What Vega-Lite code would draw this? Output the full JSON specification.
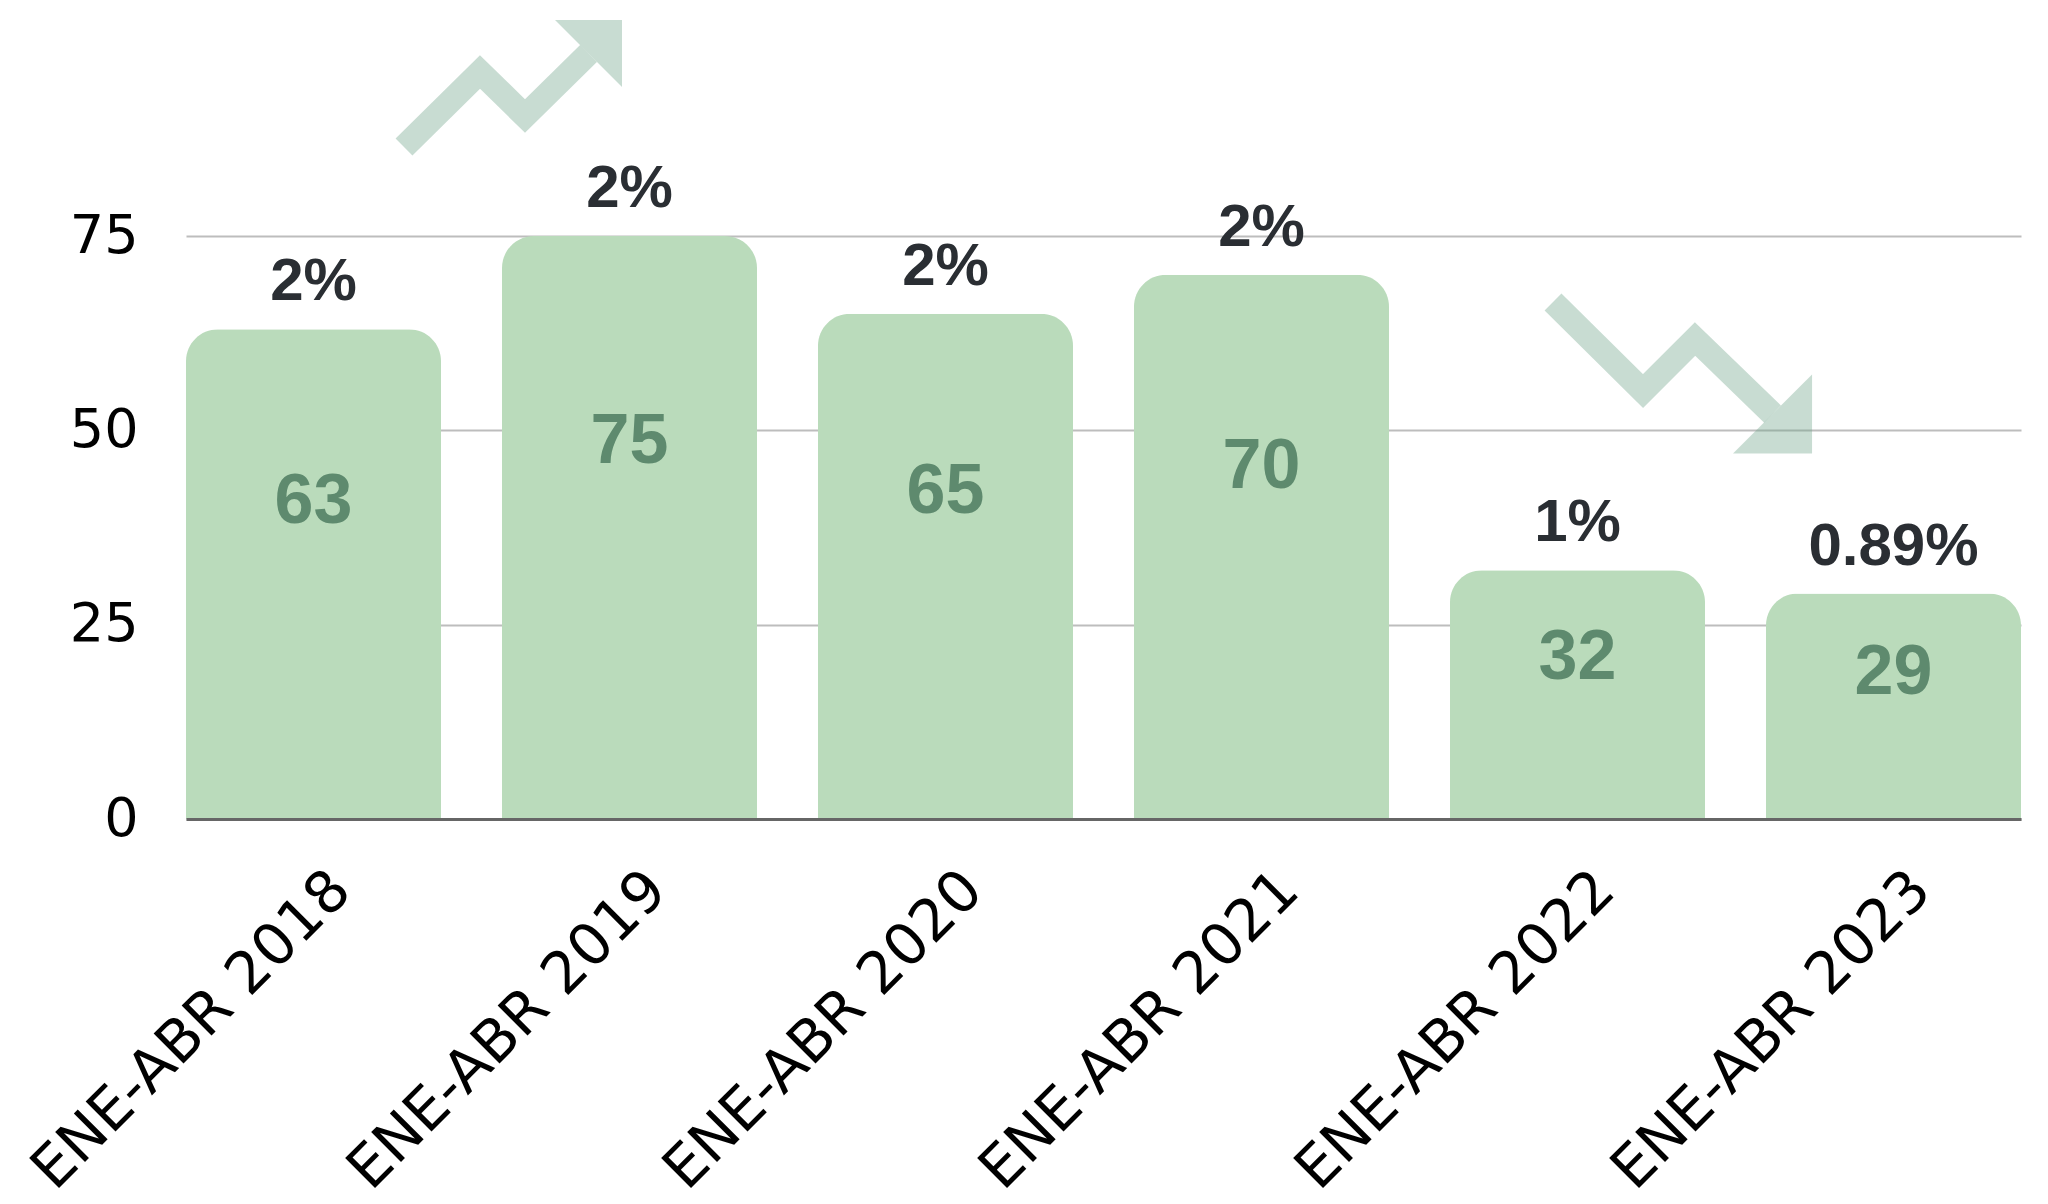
{
  "$schema": "https://vega.github.io/schema/vega-lite/v6.json",
  "width": 1835,
  "height": 583,
  "autosize": {"type": "none"},
  "padding": {"left": 186, "top": 236, "right": 27, "bottom": 385},
  "background": "white",
  "config": {"view": {"stroke": null}},
  "datasets": {
    "bars": [
      {"periodo": "ENE-ABR 2018", "valor": 63, "pct": "2%"},
      {"periodo": "ENE-ABR 2019", "valor": 75, "pct": "2%"},
      {"periodo": "ENE-ABR 2020", "valor": 65, "pct": "2%"},
      {"periodo": "ENE-ABR 2021", "valor": 70, "pct": "2%"},
      {"periodo": "ENE-ABR 2022", "valor": 32, "pct": "1%"},
      {"periodo": "ENE-ABR 2023", "valor": 29, "pct": "0.89%"}
    ],
    "arrows": [
      {"arrow": "up", "i": 0, "ax": 0.7128, "ay": 86.45},
      {"arrow": "up", "i": 1, "ax": 0.9613, "ay": 96.10},
      {"arrow": "up", "i": 2, "ax": 1.1084, "ay": 90.44},
      {"arrow": "up", "i": 3, "ax": 1.3161, "ay": 98.48},
      {"arrow": "down", "i": 0, "ax": 4.4698, "ay": 66.51},
      {"arrow": "down", "i": 1, "ax": 4.7641, "ay": 55.06},
      {"arrow": "down", "i": 2, "ax": 4.9341, "ay": 61.75},
      {"arrow": "down", "i": 3, "ax": 5.1876, "ay": 52.10}
    ]
  },
  "layer": [
    {
      "data": {"name": "bars"},
      "encoding": {
        "x": {
          "field": "periodo", "type": "nominal", "sort": null,
          "scale": {"type": "band", "paddingInner": 0.193, "paddingOuter": 0},
          "axis": {
            "title": null, "labelAngle": -45, "labelAlign": "right", "labelBaseline": "middle",
            "labelFont": "DejaVu Sans", "labelFontSize": 58, "labelColor": "#000000", "labelLimit": 2000,
            "labelPadding": 62, "labelOffset": 28, "ticks": false,
            "domainColor": "#666666", "domainWidth": 3, "zindex": 1, "grid": false
          }
        },
        "y": {
          "field": "valor", "type": "quantitative",
          "scale": {"domain": [0, 75], "nice": false},
          "axis": {
            "title": null, "values": [0, 25, 50, 75], "ticks": false, "domain": false,
            "labelFont": "DejaVu Sans", "labelFontSize": 54, "labelColor": "#000000",
            "labelPadding": 48, "grid": true, "gridColor": "#bdbdbd", "gridWidth": 2
          }
        }
      },
      "layer": [
        {"mark": {"type": "bar", "color": "#badbbb", "cornerRadiusTopLeft": 32, "cornerRadiusTopRight": 32}},
        {
          "mark": {"type": "text", "font": "Liberation Sans", "fontWeight": "bold", "fontSize": 60, "color": "#2a2e33", "baseline": "middle", "dy": -47},
          "encoding": {"text": {"field": "pct"}}
        }
      ]
    },
    {
      "data": {"name": "bars"},
      "mark": {"type": "text", "font": "Liberation Sans", "fontWeight": "bold", "fontSize": 70, "color": "#5e8a6e", "baseline": "middle"},
      "encoding": {
        "x": {"field": "periodo", "type": "nominal", "sort": null, "scale": {"type": "band", "paddingInner": 0.193, "paddingOuter": 0}, "axis": null},
        "y": {"field": "valor", "type": "quantitative", "scale": {"domain": [0, 116], "nice": false}, "axis": null},
        "text": {"field": "valor"}
      }
    },
    {
      "data": {"name": "arrows"},
      "encoding": {
        "x": {"field": "ax", "type": "quantitative", "scale": {"domain": [0, 6], "nice": false, "zero": false}, "axis": null},
        "y": {"field": "ay", "type": "quantitative", "scale": {"domain": [0, 75], "nice": false}, "axis": null}
      },
      "layer": [
        {
          "mark": {"type": "line", "color": "#6fa488", "opacity": 0.38, "strokeWidth": 24, "strokeCap": "butt", "strokeJoin": "miter"},
          "encoding": {"detail": {"field": "arrow"}, "order": {"field": "i"}}
        },
        {
          "transform": [{"filter": "datum.arrow === 'up' && datum.i === 3"}],
          "mark": {"type": "point", "filled": true, "color": "#6fa488", "opacity": 0.38, "size": 4489, "shape": "M1,-1L-1,-1L1,1Z"}
        },
        {
          "transform": [{"filter": "datum.arrow === 'down' && datum.i === 3"}],
          "mark": {"type": "point", "filled": true, "color": "#6fa488", "opacity": 0.38, "size": 6241, "shape": "M1,1L1,-1L-1,1Z"}
        }
      ]
    }
  ],
  "resolve": {"scale": {"x": "independent", "y": "independent"}}
}
